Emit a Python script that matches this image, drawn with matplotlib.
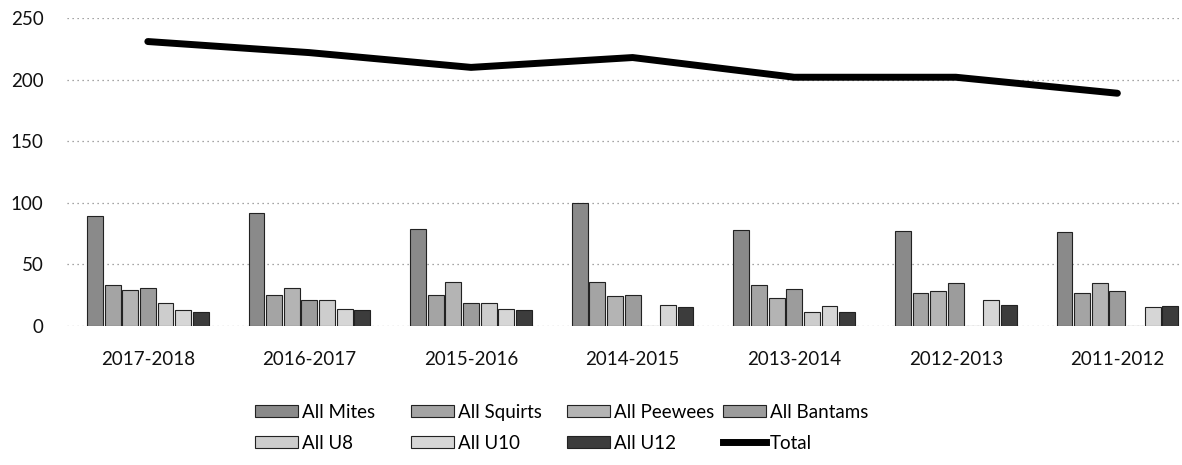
import numpy as np
import matplotlib
matplotlib.use("Agg")
import matplotlib.pyplot as plt
from matplotlib.patches import Patch
from matplotlib.lines import Line2D

seasons = ["2017-2018", "2016-2017", "2015-2016", "2014-2015",
           "2013-2014", "2012-2013", "2011-2012"]
mites = [89, 92, 79, 100, 78, 77, 76]
squirts = [33, 25, 25, 36, 33, 27, 27]
peewees = [29, 31, 36, 24, 23, 28, 35]
bantams = [31, 21, 19, 25, 30, 35, 28]
u8 = [19, 21, 19, 0, 11, 0, 0]
u10 = [13, 14, 14, 17, 16, 21, 15]
u12 = [11, 13, 13, 15, 11, 17, 16]
total = [231, 222, 210, 218, 202, 202, 189]

series = [("All Mites", mites, "#8a8a8a"),
          ("All Squirts", squirts, "#a4a4a4"),
          ("All Peewees", peewees, "#b4b4b4"),
          ("All Bantams", bantams, "#9c9c9c"),
          ("All U8", u8, "#cdcdcd"),
          ("All U10", u10, "#d6d6d6"),
          ("All U12", u12, "#3c3c3c")]

plt.rcParams["font.family"] = ["Lato", "DejaVu Sans"]
fig = plt.figure(figsize=(11.82, 4.65), dpi=100)
ax = fig.add_axes([0.0567, 0.299, 0.957, 0.662])

x = np.arange(len(seasons))
slot, w = 0.109, 0.098
for i, (name, vals, col) in enumerate(series):
    ax.bar(x + (i - 3) * slot, vals, w, color=col, edgecolor="#222222",
           linewidth=0.8, label=name, zorder=2)
ax.plot(x, total, color="black", lw=5, solid_capstyle="round",
        label="Total", zorder=3)

ax.set_xlim(-0.5, 6.5)
ax.set_ylim(0, 250)
ax.set_yticks([0, 50, 100, 150, 200, 250])
ax.set_xticks(x)
ax.set_xticklabels(seasons)
ax.tick_params(axis="both", length=0, labelsize=13.5, colors="#111111")
ax.tick_params(axis="x", pad=18)
ax.tick_params(axis="y", pad=17)
ax.grid(axis="y", color="#888888", linestyle=(0, (1, 3)), lw=0.9, zorder=0)
for s in ax.spines.values():
    s.set_visible(False)

# legend: two rows on a 4-column grid, like the original
entries = [("All Mites", 0, 412), ("All Squirts", 1, 412),
           ("All Peewees", 2, 412), ("All Bantams", 3, 412),
           ("All U8", 0, 443), ("All U10", 1, 443),
           ("All U12", 2, 443), ("Total", 3, 443)]
hmap = {name: Patch(facecolor=col, edgecolor="#222222", lw=0.8)
        for name, _, col in series}
hmap["Total"] = Line2D([], [], color="black", lw=5)
for name, col_i, py in entries:
    px = 255 + 156 * col_i
    fig.legend([hmap[name]], [name], loc="center left",
               bbox_to_anchor=(px / 1182, 1 - py / 465), frameon=False,
               fontsize=13.5, handlelength=2.3, handleheight=0.6,
               handletextpad=0.2, borderpad=0, borderaxespad=0)

fig.savefig("out.png", dpi=100)
